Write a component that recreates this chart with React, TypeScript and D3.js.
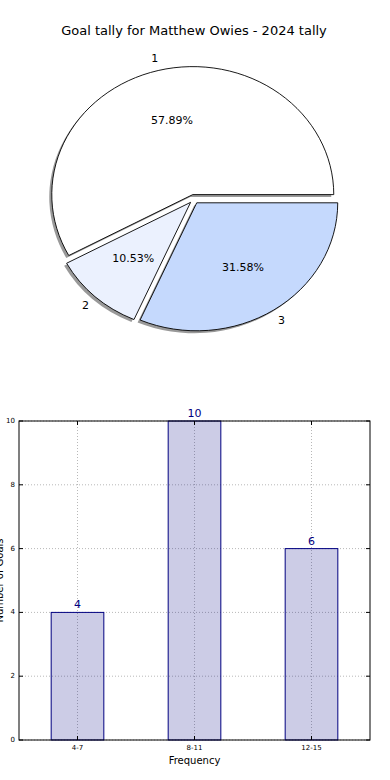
import { arc, pie, scaleBand, scaleLinear, PieArcDatum } from "d3";
import { FC } from "react";

const pieLabels = ["1", "2", "3"];
const pieValues = [11, 2, 6];
const pieColors = ["#ffffff", "#ebf1fe", "#c5d9fd"];

const barCategories = ["4-7", "8-11", "12-15"];
const barValues = [4, 10, 6];
const yTicks = [0, 2, 4, 6, 8, 10];

const FONT = "DejaVu Sans, sans-serif";

const PieChart: FC = () => {
  const cx = 194;
  const cy = 199;
  const rx = 141;
  const ry = 128;
  const explode = 5;
  const total = pieValues.reduce((a, b) => a + b, 0);

  // matplotlib: start at east, counterclockwise
  const slices = pie<number>()
    .sort(null)
    .startAngle(Math.PI / 2)
    .endAngle(Math.PI / 2 - 2 * Math.PI)(pieValues);

  const path = arc<PieArcDatum<number>>().innerRadius(0).outerRadius(rx);
  const sy = ry / rx;

  return (
    <g>
      {slices.map((s, i) => {
        const mid = (s.startAngle + s.endAngle) / 2;
        const dx = Math.sin(mid) * explode;
        const dy = -Math.cos(mid) * explode * sy;
        return (
          <g key={"sh" + i} transform={`translate(${cx + dx - 2.5},${cy + dy + 2.5}) scale(1,${sy})`}>
            <path d={path(s)!} fill="#000" fillOpacity={0.4} stroke="none" />
          </g>
        );
      })}
      {slices.map((s, i) => {
        const mid = (s.startAngle + s.endAngle) / 2;
        const dx = Math.sin(mid) * explode;
        const dy = -Math.cos(mid) * explode * sy;
        return (
          <g key={"sl" + i} transform={`translate(${cx + dx},${cy + dy}) scale(1,${sy})`}>
            <path
              d={path(s)!}
              fill={pieColors[i]}
              stroke="#000"
              strokeWidth={0.9}
              vectorEffect="non-scaling-stroke"
            />
          </g>
        );
      })}
      {slices.map((s, i) => {
        const mid = (s.startAngle + s.endAngle) / 2;
        const ux = Math.sin(mid);
        const uy = -Math.cos(mid);
        const ex = ux * explode;
        const ey = uy * explode * sy;
        const pct = ((pieValues[i] / total) * 100).toFixed(2) + "%";
        return (
          <g key={"lb" + i} fontFamily={FONT} fontSize={11} fill="#000">
            <text
              x={cx + ex + ux * rx * 0.6}
              y={cy + ey + uy * ry * 0.6}
              textAnchor="middle"
              dominantBaseline="central"
            >
              {pct}
            </text>
            <text
              x={cx + ex + ux * rx * 1.1}
              y={cy + ey + uy * ry * 1.1}
              textAnchor="middle"
              dominantBaseline="central"
            >
              {pieLabels[i]}
            </text>
          </g>
        );
      })}
    </g>
  );
};

const BarChart: FC = () => {
  const left = 19;
  const right = 370;
  const top = 421;
  const bottom = 740;

  const xScale = scaleBand<string>()
    .domain(barCategories)
    .range([left, right])
    .paddingInner(0.55)
    .paddingOuter(0.275);
  const center = (c: string) => xScale(c)! + xScale.bandwidth() / 2;

  const yScale = scaleLinear().domain([0, 10]).range([bottom, top]);

  return (
    <g fontFamily={FONT}>
      {/* grid */}
      {yTicks.map((t) => (
        <line
          key={"gy" + t}
          x1={left}
          x2={right}
          y1={yScale(t)}
          y2={yScale(t)}
          stroke="#b8b8b8"
          strokeDasharray="1,2"
        />
      ))}
      {barCategories.map((c) => (
        <line
          key={"gx" + c}
          x1={center(c)}
          x2={center(c)}
          y1={top}
          y2={bottom}
          stroke="#b8b8b8"
          strokeDasharray="1,2"
        />
      ))}

      {/* bars */}
      {barCategories.map((c, i) => (
        <rect
          key={"b" + c}
          x={xScale(c)}
          y={yScale(barValues[i])}
          width={xScale.bandwidth()}
          height={bottom - yScale(barValues[i])}
          fill="#000080"
          fillOpacity={0.2}
          stroke="#000080"
          strokeWidth={1}
        />
      ))}
      {barCategories.map((c, i) => (
        <text
          key={"v" + c}
          x={center(c)}
          y={yScale(barValues[i]) - 4}
          textAnchor="middle"
          fontSize={11}
          fill="#000080"
        >
          {barValues[i]}
        </text>
      ))}

      {/* frame */}
      <rect x={left} y={top} width={right - left} height={bottom - top} fill="none" stroke="#000" strokeWidth={1} />

      {/* y ticks */}
      {yTicks.map((t) => (
        <g key={"ty" + t}>
          <line x1={left} x2={left + 4} y1={yScale(t)} y2={yScale(t)} stroke="#000" />
          <line x1={right} x2={right - 4} y1={yScale(t)} y2={yScale(t)} stroke="#000" />
          <text x={left - 4} y={yScale(t)} textAnchor="end" dominantBaseline="central" fontSize={7} fill="#000">
            {t}
          </text>
        </g>
      ))}

      {/* x ticks */}
      {barCategories.map((c) => (
        <g key={"tx" + c}>
          <line x1={center(c)} x2={center(c)} y1={bottom} y2={bottom - 4} stroke="#000" />
          <line x1={center(c)} x2={center(c)} y1={top} y2={top + 4} stroke="#000" />
          <text x={center(c)} y={bottom + 10} textAnchor="middle" fontSize={7} fill="#000">
            {c}
          </text>
        </g>
      ))}

      <text x={(left + right) / 2} y={bottom + 24} textAnchor="middle" fontSize={10} fill="#000">
        Frequency
      </text>
      <text
        transform={`translate(${left - 16},${(top + bottom) / 2}) rotate(-90)`}
        textAnchor="middle"
        fontSize={10}
        fill="#000"
      >
        Number of Goals
      </text>
    </g>
  );
};

const App: FC = () => {
  return (
    <svg
      width={390}
      height={780}
      style={{ position: "absolute", left: 0, top: 0, background: "#fff" }}
    >
      <rect width={390} height={780} fill="#fff" />
      <text x={194} y={35} textAnchor="middle" fontFamily={FONT} fontSize={13} fill="#000">
        Goal tally for Matthew Owies - 2024 tally
      </text>
      <PieChart />
      <BarChart />
    </svg>
  );
};

export default App;
